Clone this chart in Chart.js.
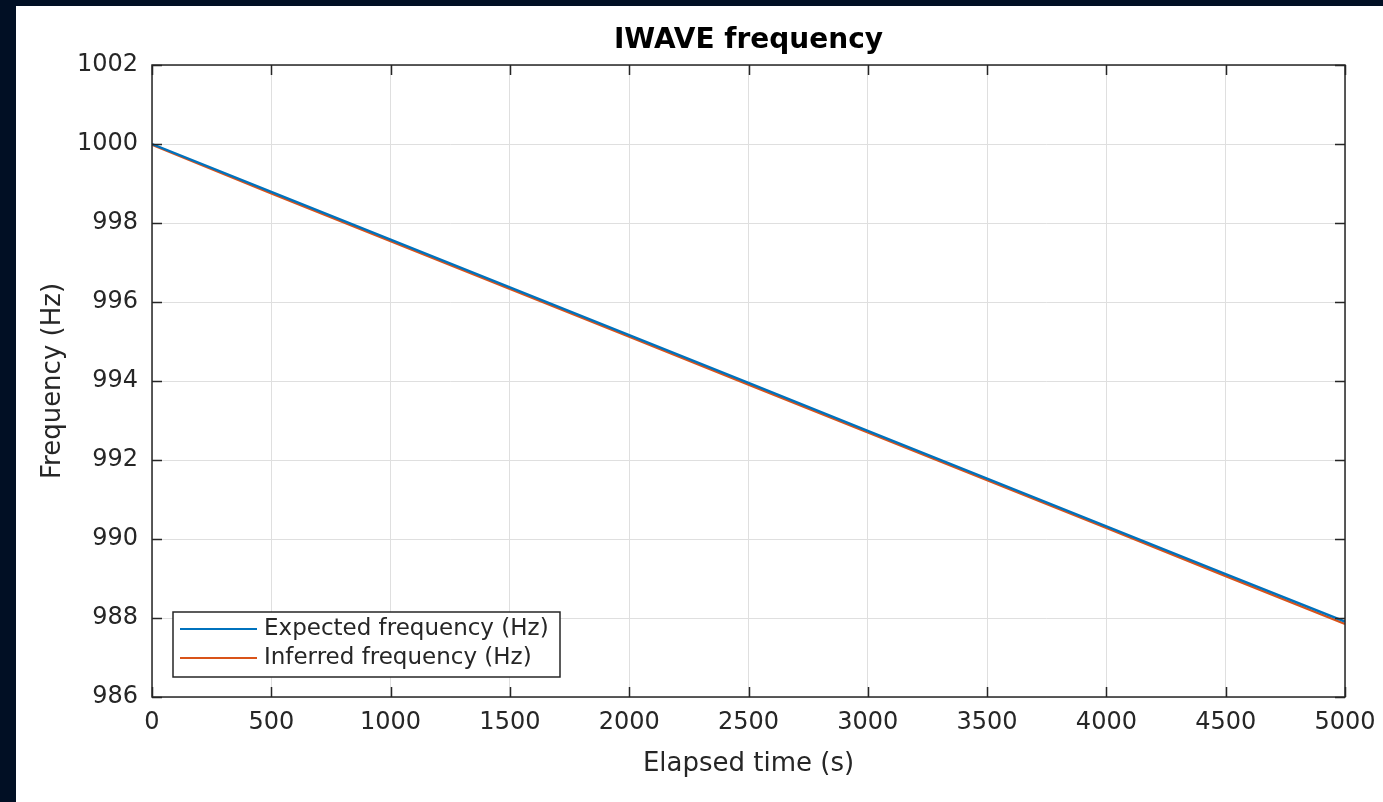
<!DOCTYPE html>
<html>
<head>
<meta charset="utf-8">
<title>IWAVE frequency</title>
<script src="https://cdn.jsdelivr.net/npm/chart.js@4.4.1/dist/chart.umd.min.js"></script>
<style>
  html, body { margin: 0; padding: 0; background: #010f24; overflow: hidden; }
  #frame { position: absolute; left: 16px; top: 6px; width: 1367px; height: 796px; background: #fff; }
</style>
</head>
<body>
<div id="frame"><canvas id="freq-canvas" width="1367" height="796"></canvas></div>
<script>
/* ── data ── */
const timeS      = [0, 500, 1000, 1500, 2000, 2500, 3000, 3500, 4000, 4500, 5000];
const expectedHz = [1000.00, 998.79, 997.58, 996.37, 995.16, 993.95, 992.74, 991.53, 990.32, 989.11, 987.91];
const inferredHz = [999.98, 998.75, 997.54, 996.33, 995.12, 993.91, 992.70, 991.49, 990.28, 989.06, 987.85];

const FONT = "'DejaVu Sans', sans-serif";
const AXIS_COLOR = '#262626';

const toPoints = (xs, ys) => xs.map((x, i) => ({ x, y: ys[i] }));

// MATLAB-style box: frame plus inward ticks on all four sides
const boxAxes = {
  id: 'boxAxes',
  afterDatasetsDraw(chart) {
    const { ctx, chartArea: a, scales } = chart;
    const len = 10;
    ctx.save();
    ctx.strokeStyle = AXIS_COLOR;
    ctx.lineWidth = 1.5;
    ctx.beginPath();
    scales.x.ticks.forEach(t => {
      const px = Math.round(scales.x.getPixelForValue(t.value)) + 0.5;
      ctx.moveTo(px, a.bottom); ctx.lineTo(px, a.bottom - len);
      ctx.moveTo(px, a.top);    ctx.lineTo(px, a.top + len);
    });
    scales.y.ticks.forEach(t => {
      const py = Math.round(scales.y.getPixelForValue(t.value)) + 0.5;
      ctx.moveTo(a.left, py);  ctx.lineTo(a.left + len, py);
      ctx.moveTo(a.right, py); ctx.lineTo(a.right - len, py);
    });
    ctx.stroke();
    ctx.strokeRect(a.left, a.top, a.right - a.left, a.bottom - a.top);
    ctx.restore();
  }
};

// legend box sitting in the lower-left corner of the plot
const insetLegend = {
  id: 'insetLegend',
  afterDraw(chart) {
    const { ctx, chartArea: a } = chart;
    const w = 387, h = 65;
    const x0 = a.left + 21, y0 = a.bottom - 20 - h;
    ctx.save();
    ctx.fillStyle = '#fff';
    ctx.fillRect(x0, y0, w, h);
    ctx.strokeStyle = AXIS_COLOR;
    ctx.lineWidth = 1.5;
    ctx.strokeRect(x0, y0, w, h);
    ctx.font = `23px ${FONT}`;
    ctx.textBaseline = 'middle';
    chart.data.datasets.forEach((ds, i) => {
      const y = y0 + 17 + i * 29;
      ctx.strokeStyle = ds.borderColor;
      ctx.lineWidth = 2;
      ctx.beginPath();
      ctx.moveTo(x0 + 7, y); ctx.lineTo(x0 + 84, y);
      ctx.stroke();
      ctx.fillStyle = AXIS_COLOR;
      ctx.fillText(ds.label, x0 + 91, y);
    });
    ctx.restore();
  }
};

new Chart(document.getElementById('freq-canvas'), {
  type: 'line',
  data: {
    datasets: [
      { label: 'Expected frequency (Hz)', data: toPoints(timeS, expectedHz), borderColor: '#0072BD' },
      { label: 'Inferred frequency (Hz)', data: toPoints(timeS, inferredHz), borderColor: '#D95319' },
    ]
  },
  options: {
    responsive: false,
    animation: false,
    layout: { padding: { top: 0, left: 0, right: 38, bottom: 0 } },
    elements: {
      line: { borderWidth: 2.4, tension: 0 },
      point: { radius: 0 }
    },
    plugins: {
      legend: { display: false },
      tooltip: { enabled: false },
      title: {
        display: true,
        fullSize: false,
        text: 'IWAVE frequency',
        color: '#000',
        font: { family: FONT, size: 28, weight: 'bold' },
        padding: { top: 18, bottom: 7.4 }
      }
    },
    scales: {
      x: {
        type: 'linear',
        min: 0, max: 5000,
        afterFit: s => { s.height = 105; s.paddingLeft = 0; s.paddingRight = 0; },
        border: { display: false },
        grid: { color: '#dfdfdf', drawTicks: false },
        ticks: {
          stepSize: 500, padding: 11, color: AXIS_COLOR, maxRotation: 0,
          font: { family: FONT, size: 24 },
          callback: v => String(v)
        },
        title: {
          display: true, text: 'Elapsed time (s)', color: AXIS_COLOR,
          font: { family: FONT, size: 26 }, padding: { top: 0, bottom: 22 }
        }
      },
      y: {
        min: 986, max: 1002,
        afterFit: s => { s.width = 136; s.paddingTop = 0; s.paddingBottom = 0; },
        border: { display: false },
        grid: { color: '#dfdfdf', drawTicks: false },
        ticks: {
          stepSize: 2, padding: 14, color: AXIS_COLOR,
          font: { family: FONT, size: 24 },
          callback: v => String(v)
        },
        title: {
          display: true, text: 'Frequency (Hz)', color: AXIS_COLOR,
          font: { family: FONT, size: 26 }, padding: { top: 22, bottom: 0 }
        }
      }
    }
  },
  plugins: [boxAxes, insetLegend]
});
</script>
</body>
</html>
